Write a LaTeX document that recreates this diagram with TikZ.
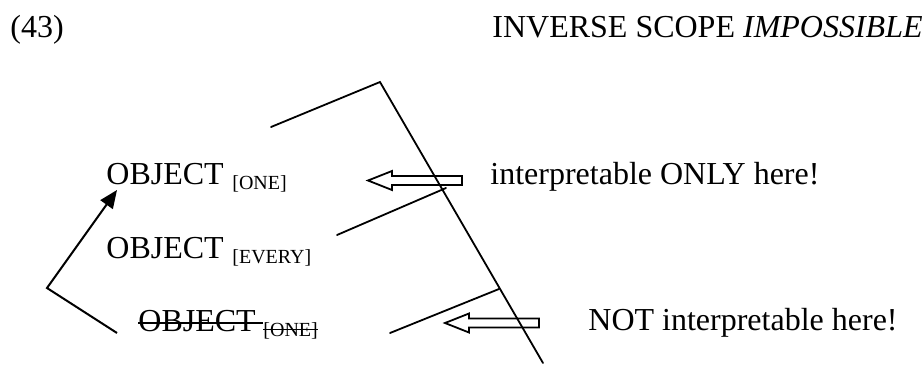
\documentclass[tikz,border=0pt]{standalone}
\usepackage{fontspec}
\setmainfont{Liberation Serif}
\usepackage{tikz}
\usetikzlibrary{arrows.meta}
\tikzset{
  lbl/.style={anchor=base west,inner sep=0pt,font=\fontsize{16}{19}\selectfont},
  sub/.style={anchor=base west,inner sep=0pt,font=\fontsize{10}{12}\selectfont},
  branch/.style={line width=0.9pt,line cap=round},
  strike/.style={line width=0.8pt},
  move/.style={-{Triangle[length=9pt,width=7.5pt]},line width=1pt},
  hollow/.style={draw,line width=0.9pt,line join=miter},
  hollowarrow/.pic={
    \path[hollow] (0,0) -- (24,-9.5) -- (24,-4.5) -- (94,-4.5) -- (94,4.5)
      -- (24,4.5) -- (24,9.5) -- cycle;
  },
}
\begin{document}
\begin{tikzpicture}[x=0.5pt,y=-0.5pt]
  \useasboundingbox (0,0) rectangle (923,365);
  % header
  \node[lbl] (num) at (10,37) {(43)};
  \node[lbl] (title) at (492,37) {INVERSE SCOPE \textit{IMPOSSIBLE}};
  % objects
  \node[lbl] (objone) at (106,184) {OBJECT};
  \node[sub] (objonesub) at (232,189) {[ONE]};
  \node[lbl] (objevery) at (106,258) {OBJECT};
  \node[sub] (objeverysub) at (232,263) {[EVERY]};
  \node[lbl] (objlow) at (138,331) {OBJECT};
  \node[sub] (objlowsub) at (263,336) {[ONE]};
  \draw[strike] ([yshift=4pt]objlow.base west) -- ([xshift=3.5pt,yshift=4pt]objlow.base east);
  \draw[strike] ([yshift=3.3pt]objlowsub.base west) -- ([yshift=3.3pt]objlowsub.base east);
  % comments
  \node[lbl] (yes) at (490,184) {interpretable ONLY here!};
  \node[lbl] (no) at (588,330) {NOT interpretable here!};
  % tree
  \coordinate (top) at (380,82);
  \coordinate (topleft) at (271,127);
  \coordinate (bottom) at (543,363);
  \coordinate (midleft) at (337,235);
  \coordinate (midright) at (446,188);
  \coordinate (lowleft) at (390,333);
  \coordinate (lowright) at (499,289);
  \draw[branch] (topleft) -- (top) -- (bottom);
  \draw[branch] (midleft) -- (midright);
  \draw[branch] (lowleft) -- (lowright);
  % movement
  \coordinate (trace) at (117,333);
  \coordinate (bend) at (47,288);
  \coordinate (landing) at (117,190);
  \draw[move] (trace) -- (bend) -- (landing);
  % pointers
  \pic (yesarrow) at (368,180.5) {hollowarrow};
  \pic (noarrow) at (445,323) {hollowarrow};
\end{tikzpicture}
\end{document}
